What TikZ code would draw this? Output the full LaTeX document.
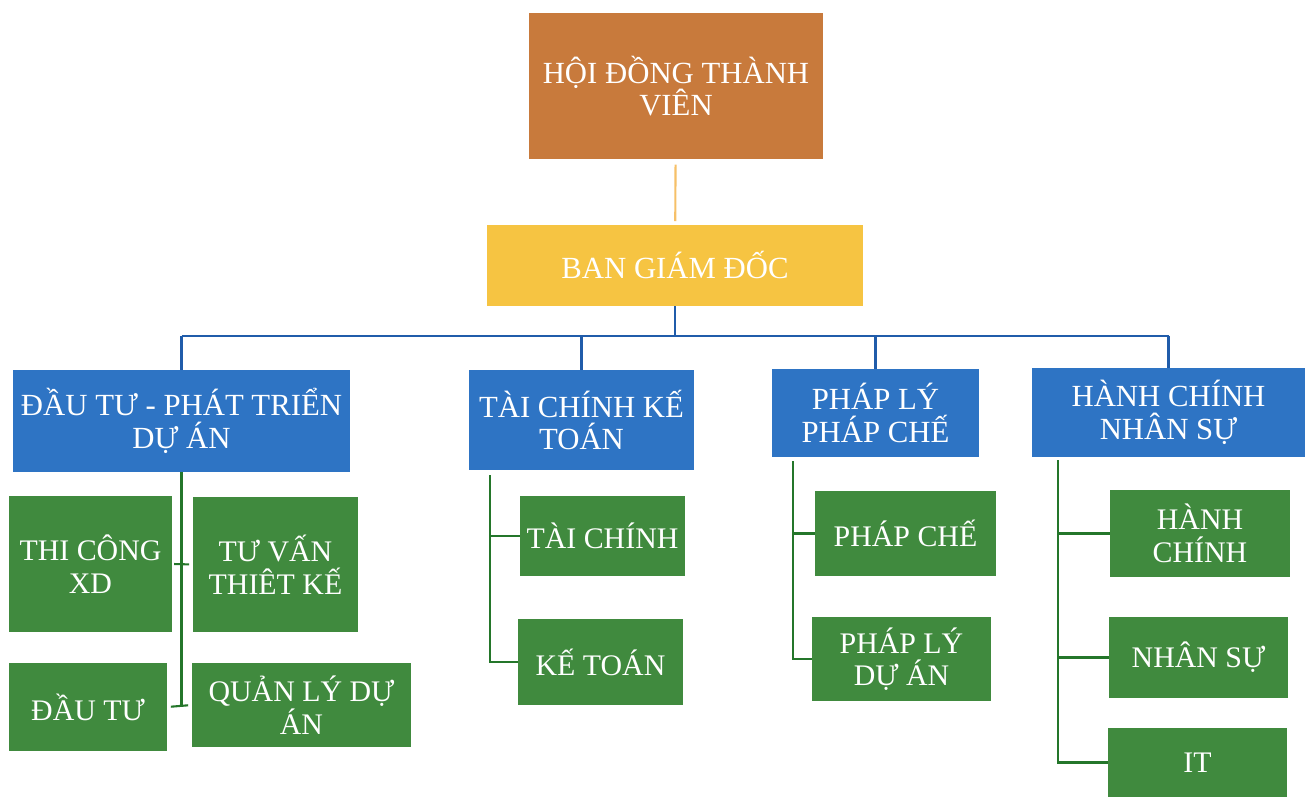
\documentclass[tikz,border=0pt]{standalone}
\usepackage{fontspec}
\setmainfont{Liberation Serif}
\usetikzlibrary{calc}

\definecolor{hdtvfill}{RGB}{200,122,60}
\definecolor{bgdfill}{RGB}{246,196,66}
\definecolor{deptfill}{RGB}{46,116,196}
\definecolor{unitfill}{RGB}{64,138,62}
\definecolor{orangeline}{RGB}{246,192,104}
\definecolor{blueline}{RGB}{32,92,170}
\definecolor{greenline}{RGB}{36,118,42}

\tikzset{
  box/.style={inner sep=0pt, align=center, text=white,
    font=\fontsize{17.5}{18.5}\selectfont},
  hdtvbox/.style={box, fill=hdtvfill},
  bgdbox/.style={box, fill=bgdfill},
  deptbox/.style={box, fill=deptfill},
  unitbox/.style={box, fill=unitfill, font=\fontsize{17}{18.5}\selectfont},
  link/.style={line width=1.2pt},
}

\begin{document}
\begin{tikzpicture}[x=0.02cm,y=-0.02cm]

\useasboundingbox (0,0) rectangle (1306,797);

% top
\node[hdtvbox, minimum width=5.88cm, minimum height=2.92cm] (hdtv) at (676,86) {HỘI ĐỒNG THÀNH\\VIÊN};
\node[bgdbox, minimum width=7.52cm, minimum height=1.62cm] (bgd) at (675,265.5) {BAN GIÁM ĐỐC};

% departments
\node[deptbox, minimum width=6.74cm, minimum height=2.04cm] (dtpt) at (181.5,421) {ĐẦU TƯ - PHÁT TRIỂN\\DỰ ÁN};
\node[deptbox, minimum width=4.50cm, minimum height=2.00cm] (tckt) at (581.5,420) {TÀI CHÍNH KẾ\\TOÁN};
\node[deptbox, minimum width=4.14cm, minimum height=1.76cm] (plpc) at (875.5,413) {PHÁP LÝ\\PHÁP CHẾ};
\node[deptbox, minimum width=5.46cm, minimum height=1.78cm] (hcns) at (1168.5,412.5) {HÀNH CHÍNH\\NHÂN SỰ};

% units
\node[unitbox, minimum width=3.26cm, minimum height=2.72cm] (tcxd) at (90.5,564) {THI CÔNG\\XD};
\node[unitbox, minimum width=3.30cm, minimum height=2.70cm] (tvtk) at (275.5,564.5) {TƯ VẤN\\THIÊT KẾ};
\node[unitbox, minimum width=3.16cm, minimum height=1.76cm] (dautu) at (88,707) {ĐẦU TƯ};
\node[unitbox, minimum width=4.38cm, minimum height=1.68cm] (qlda) at (301.5,705) {QUẢN LÝ DỰ\\ÁN};

\node[unitbox, minimum width=3.30cm, minimum height=1.60cm] (taichinh) at (602.5,536) {TÀI CHÍNH};
\node[unitbox, minimum width=3.30cm, minimum height=1.72cm] (ketoan) at (600.5,662) {KẾ TOÁN};

\node[unitbox, minimum width=3.62cm, minimum height=1.70cm] (phapche) at (905.5,533.5) {PHÁP CHẾ};
\node[unitbox, minimum width=3.58cm, minimum height=1.68cm] (phaplyda) at (901.5,659) {PHÁP LÝ\\DỰ ÁN};

\node[unitbox, minimum width=3.60cm, minimum height=1.74cm] (hanhchinh) at (1200,533.5) {HÀNH\\CHÍNH};
\node[unitbox, minimum width=3.58cm, minimum height=1.62cm] (nhansu) at (1198.5,657.5) {NHÂN SỰ};
\node[unitbox, minimum width=3.58cm, minimum height=1.38cm] (it) at (1197.5,762.5) {IT};

% hdtv -- bgd
\draw[link, orangeline, shorten <=3pt, shorten >=2pt] (hdtv) -- (bgd);

% bgd -- departments
\coordinate (bus) at (676,336);
\draw[link, blueline] (bgd) -- (bgd |- bus);
\draw[link, blueline] (dtpt.north |- bus) -- (hcns.north |- bus);
\foreach \d in {dtpt,tckt,plpc,hcns}
  \draw[link, blueline] (\d.north |- bus) -- (\d.north);

% dtpt units
\draw[link, greenline] (dtpt.south) -- (dtpt.south |- dautu.east);
\draw[link, greenline, shorten <=1pt, shorten >=2pt] (tcxd.east) -- (tvtk.west);
\draw[link, greenline, shorten <=2pt, shorten >=2pt] (dautu.east) -- (qlda.west);

% tckt units
\coordinate (s2) at (490,475);
\draw[link, greenline] (s2) |- (ketoan.west);
\draw[link, greenline] (taichinh.west) -- (taichinh.west -| s2);

% plpc units
\coordinate (s3) at (793,461);
\draw[link, greenline] (s3) |- (phaplyda.west);
\draw[link, greenline] (phapche.west) -- (phapche.west -| s3);

% hcns units
\coordinate (s4) at (1058,460);
\draw[link, greenline] (s4) |- (it.west);
\draw[link, greenline] (hanhchinh.west) -- (hanhchinh.west -| s4);
\draw[link, greenline] (nhansu.west) -- (nhansu.west -| s4);

\end{tikzpicture}
\end{document}
